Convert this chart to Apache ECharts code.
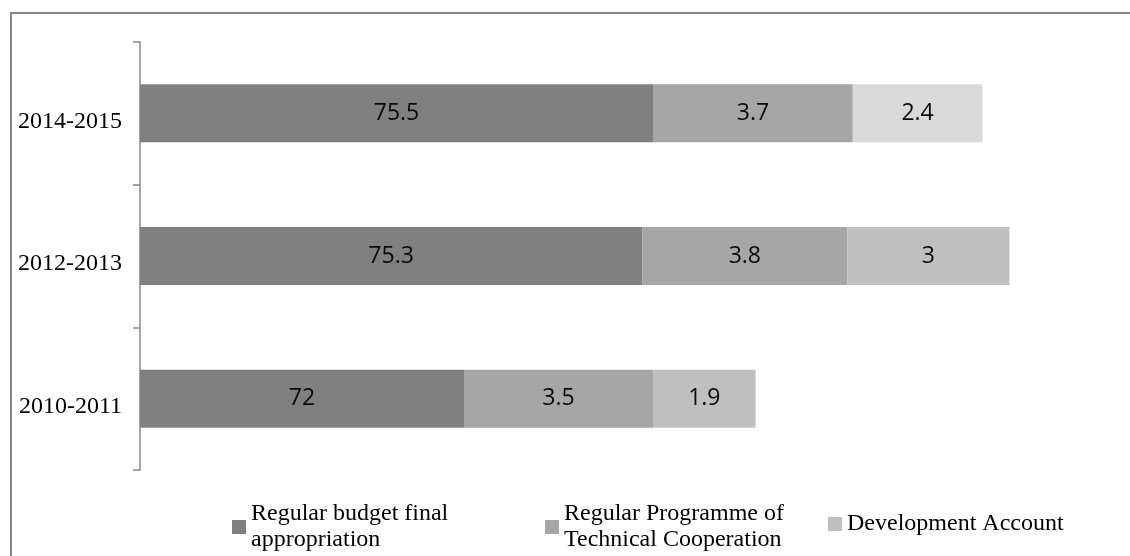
<!DOCTYPE html>
<html>
<head>
<meta charset="utf-8">
<script src="https://cdn.jsdelivr.net/npm/echarts@6/dist/echarts.min.js"></script>
<style>
html,body{margin:0;padding:0;background:#fff;}
#chart{width:1130px;height:556px;}
</style>
</head>
<body>
<div id="chart"></div>
<script>
const categories = ['2010-2011', '2012-2013', '2014-2015'];
const regularBudget = [72, 75.3, 75.5];
const technicalCoop = [3.5, 3.8, 3.7];
const developmentAccount = [1.9, 3, 2.4];
const seriesNames = ['Regular budget final\nappropriation', 'Regular Programme of\nTechnical Cooperation', 'Development Account'];
const devColors = ['#bfbfbf', '#bfbfbf', '#d9d9d9'];

const chart = echarts.init(document.getElementById('chart'));
const labelStyle = {
  show: true,
  position: 'inside',
  color: '#0a0a0a',
  fontFamily: 'Open Sans',
  fontSize: 23
};
const legendText = {
  fontFamily: 'Liberation Serif',
  fontSize: 24,
  lineHeight: 26,
  color: '#000'
};
function legend(name, left, top) {
  return {
    data: [name], left: left, top: top, padding: 0,
    icon: 'rect', itemWidth: 14, itemHeight: 14, itemGap: 0,
    selectedMode: false, textStyle: legendText,
    formatter: n => n
  };
}
chart.setOption({
  animation: false,
  graphic: [{
    type: 'rect', silent: true,
    shape: { x: 11, y: 13, width: 1300, height: 700 },
    style: { fill: 'none', stroke: '#878787', lineWidth: 2 }
  }],
  legend: [
    legend(seriesNames[0], 232, 501),
    legend(seriesNames[1], 545, 501),
    legend(seriesNames[2], 828, 511)
  ],
  grid: { left: 140, right: 18, top: 42, bottom: 86, containLabel: false },
  xAxis: { type: 'value', min: 66, max: 84, show: false },
  yAxis: {
    type: 'category',
    data: categories,
    axisLine: { show: true, lineStyle: { color: '#878787', width: 1.5 } },
    axisTick: { show: true, length: 7, lineStyle: { color: '#878787', width: 1.5 } },
    axisLabel: {
      fontFamily: 'Liberation Serif', fontSize: 24, color: '#000',
      margin: 18, verticalAlign: 'top', lineHeight: 16
    }
  },
  series: [
    {
      name: seriesNames[0], type: 'bar', stack: 'total', barWidth: 58,
      itemStyle: { color: '#808080' }, label: labelStyle,
      data: regularBudget
    },
    {
      name: seriesNames[1], type: 'bar', stack: 'total', barWidth: 58,
      itemStyle: { color: '#a6a6a6' }, label: labelStyle,
      data: technicalCoop
    },
    {
      name: seriesNames[2], type: 'bar', stack: 'total', barWidth: 58,
      itemStyle: { color: '#bfbfbf' }, label: labelStyle,
      data: developmentAccount.map((v, i) => ({ value: v, itemStyle: { color: devColors[i] } }))
    }
  ]
});
</script>
</body>
</html>
